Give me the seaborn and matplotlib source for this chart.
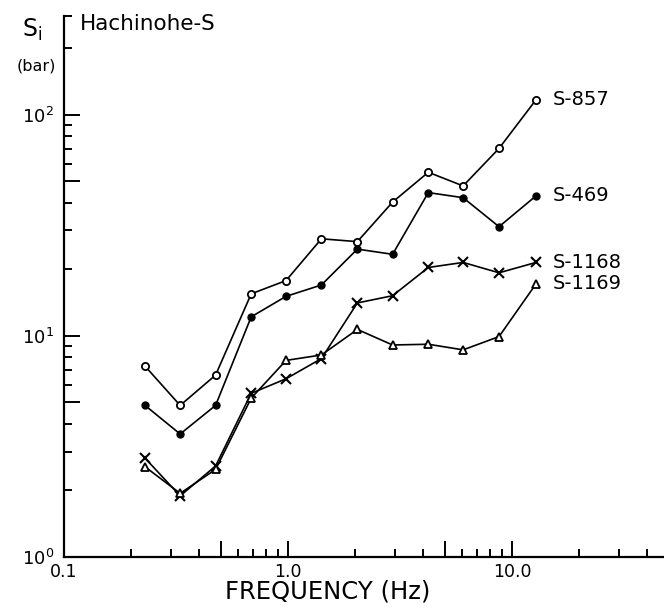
import matplotlib
matplotlib.use("Agg")
import matplotlib.pyplot as plt
import seaborn as sns
import pandas as pd
from matplotlib.ticker import FixedLocator, FixedFormatter, NullFormatter

# ---- data ----
freq = [0.23, 0.33, 0.475, 0.685, 0.98, 1.41, 2.04, 2.93, 4.23, 6.05, 8.75, 12.8]
s857 = [7.3, 4.85, 6.65, 15.5, 17.8, 27.5, 26.7, 40.3, 55.0, 47.7, 70.5, 117.0]
s469 = [4.85, 3.6, 4.85, 12.2, 15.1, 17.0, 24.7, 23.4, 44.5, 42.2, 31.2, 43.0]
s1168 = [2.8, 1.89, 2.58, 5.5, 6.4, 7.9, 14.1, 15.2, 20.4, 21.5, 19.3, 21.5]
s1169 = [2.56, 1.94, 2.49, 5.23, 7.75, 8.2, 10.7, 9.1, 9.17, 8.65, 9.93, 17.2]
names = ["S-857", "S-469", "S-1168", "S-1169"]

x_major = [0.1, 0.5, 1.0, 5.0, 10.0]
x_major_labels = ["0.1", "", "1.0", "", "10.0"]
x_minor = [0.2, 0.3, 0.4, 0.6, 0.7, 0.8, 0.9, 2, 3, 4, 6, 7, 8, 9, 20, 30, 40]
y_major = [1, 5, 10, 50, 100]
y_major_labels = ["$10^0$", "", "$10^1$", "", "$10^2$"]
y_minor = [2, 3, 4, 6, 7, 8, 9, 20, 30, 40, 60, 70, 80, 90, 200, 280]

sns.set_theme(style="white")
plt.rcParams["font.family"] = ["DejaVu Sans"]
plt.rcParams["mathtext.default"] = "regular"
for k in ["text.color", "axes.labelcolor", "xtick.color", "ytick.color", "axes.edgecolor"]:
    plt.rcParams[k] = "black"

df = pd.DataFrame({
    "freq": freq * 4,
    "S": s857 + s469 + s1168 + s1169,
    "sample": sum([[n] * len(freq) for n in names], []),
})

fig = plt.figure(figsize=(6.64, 6.09), dpi=100)
ax = fig.add_axes([64 / 664, 52 / 609, 600 / 664, 541 / 609])
ax.set_xscale("log")
ax.set_yscale("log")

styles = {
    "S-857": dict(marker="o", markersize=5.2, markerfacecolor="white", markeredgewidth=1.3),
    "S-469": dict(marker="o", markersize=5.0, markerfacecolor="black", markeredgewidth=1.0),
    "S-1168": dict(marker="x", markersize=7, markerfacecolor="black", markeredgewidth=1.5),
    "S-1169": dict(marker="^", markersize=5.5, markerfacecolor="white", markeredgewidth=1.3),
}

for n in names:
    sub = df[df["sample"] == n]
    sns.lineplot(data=sub, x="freq", y="S", ax=ax, color="black", linewidth=1.2,
                 markeredgecolor="black", sort=False, estimator=None, legend=False,
                 **styles[n])
    ax.annotate(n, xy=(sub["freq"].iloc[-1], sub["S"].iloc[-1]), xytext=(12, 0),
                textcoords="offset points", ha="left", va="center", fontsize=14,
                color="black")

ax.set_xlim(0.1, 47.7)
ax.set_ylim(1, 280)

for s in ["top", "right"]:
    ax.spines[s].set_visible(False)
for s in ["left", "bottom"]:
    ax.spines[s].set_linewidth(1.6)
    ax.spines[s].set_color("black")

ax.xaxis.set_major_locator(FixedLocator(x_major))
ax.xaxis.set_major_formatter(FixedFormatter(x_major_labels))
ax.xaxis.set_minor_locator(FixedLocator(x_minor))
ax.xaxis.set_minor_formatter(NullFormatter())
ax.yaxis.set_major_locator(FixedLocator(y_major))
ax.yaxis.set_major_formatter(FixedFormatter(y_major_labels))
ax.yaxis.set_minor_locator(FixedLocator(y_minor))
ax.yaxis.set_minor_formatter(NullFormatter())

ax.tick_params(which="both", bottom=True, left=True, top=False, right=False)
ax.tick_params(which="major", direction="in", length=11.5, width=1.4, color="black")
ax.tick_params(which="minor", direction="in", length=6, width=1.4, color="black")
ax.tick_params(axis="x", which="major", labelsize=12.5, pad=4, labelcolor="black")
ax.tick_params(axis="y", which="major", labelsize=13, pad=7, labelcolor="black")
ax.grid(False)

ax.set_xlabel("FREQUENCY (Hz)", fontsize=17.5, va="center", color="black")
ax.xaxis.set_label_coords((328 - 64) / 600, (557 - 592) / 541)
ax.set_ylabel("")

fig.text(80 / 664, 1 - 30 / 609, "Hachinohe-S", fontsize=15.5, va="baseline", ha="left")
fig.text(22 / 664, 1 - 37 / 609, "$S_i$", fontsize=17, va="baseline", ha="left")
fig.text(36 / 664, 1 - 66 / 609, "(bar)", fontsize=11.5, va="center", ha="center")

fig.savefig("out.png", dpi=100, facecolor="white")
